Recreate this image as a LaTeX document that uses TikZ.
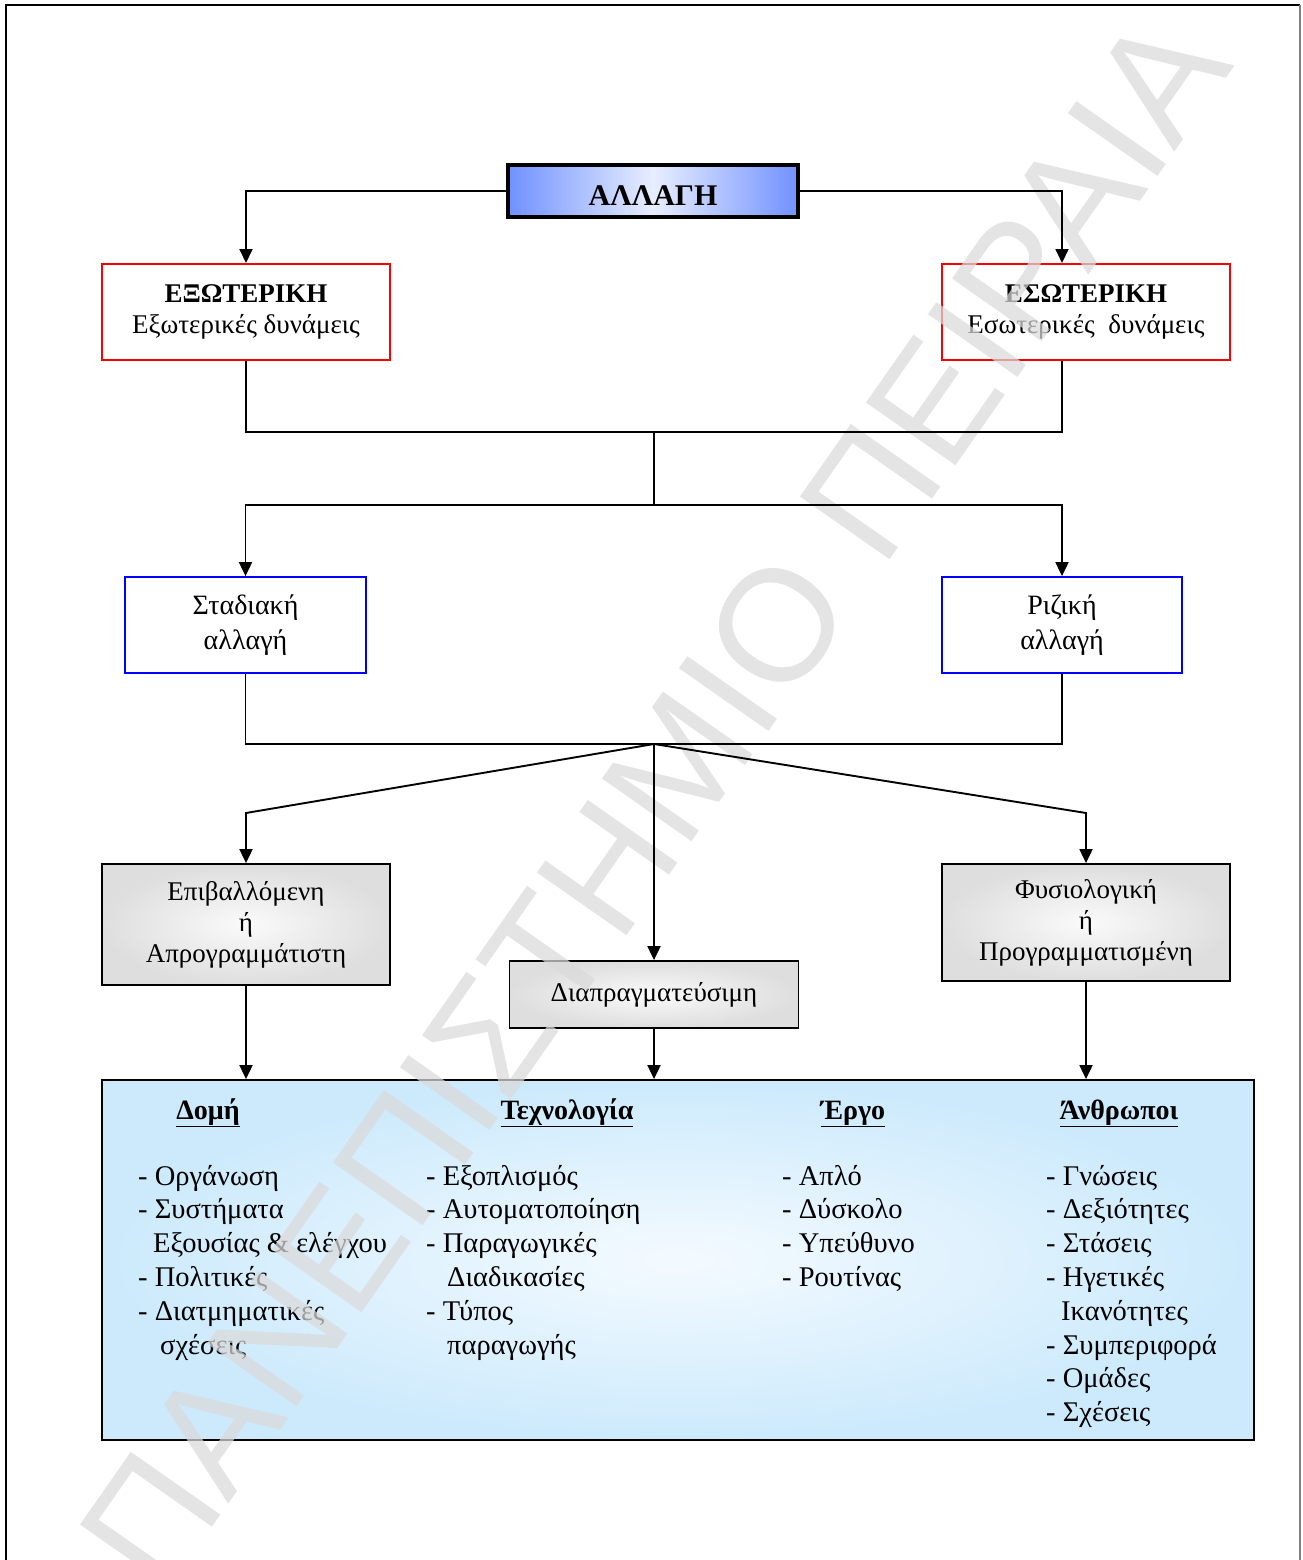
\documentclass[tikz,border=0pt]{standalone}
\usepackage{fontspec}
\setmainfont{Liberation Serif}
\newfontfamily\wmfont{Liberation Sans}
\usetikzlibrary{arrows.meta}

\definecolor{edgeblue}{RGB}{112,145,255}
\definecolor{paleblue}{RGB}{232,238,255}
\definecolor{skyedge}{RGB}{204,234,252}
\definecolor{skycore}{RGB}{244,250,255}
\definecolor{greyedge}{RGB}{222,222,222}
\definecolor{greycore}{RGB}{250,250,250}
\definecolor{wmgrey}{RGB}{218,218,218}

\newcommand{\boxfont}{\fontsize{27}{31}\selectfont}
\newcommand{\kindfont}{\fontsize{28}{35}\selectfont}
\newcommand{\listfont}{\fontsize{28.5}{33.8}\selectfont}
\newcommand{\headfont}{\bfseries\fontsize{28}{32}\selectfont}

\begin{document}
\begin{tikzpicture}[x=1pt,y=-1pt,
  box/.style={draw, line width=1.8pt, inner sep=0pt, align=center, font=\boxfont},
  sourcebox/.style={box, draw=red, line width=2pt, minimum width=288pt, minimum height=96pt},
  kindbox/.style={box, draw=blue, line width=1.8pt, minimum width=240pt, minimum height=96pt, font=\kindfont},
  modebox/.style={box, minimum width=288pt, inner color=greycore, outer color=greyedge},
  head/.style={anchor=base, inner sep=0pt, font=\headfont},
  col/.style={anchor=base west, inner sep=0pt, font=\listfont},
  wm/.style={anchor=base, rotate=55, inner sep=0pt, text=wmgrey, text opacity=0.72,
             font=\wmfont\fontsize{159}{160}\selectfont},
  conn/.style={line width=1.9pt},
  arr/.style={conn, -{Triangle[length=14pt, width=13pt]}}]

\useasboundingbox (0,0) rectangle (1302,1560);

% page frame (open at the bottom)
\draw[line width=2pt] (6,1560) -- (6,5) -- (1300,5);
\draw[line width=1.5pt, gray] (1300,5) -- (1300,1560);

% top node
\node[box, line width=3.5pt, minimum width=290pt, minimum height=52pt,
      left color=edgeblue, right color=edgeblue, middle color=paleblue,
      font=\bfseries\fontsize{30}{32}\selectfont] (change) at (653,191)
      {\raisebox{-5pt}[\height][\depth]{ΑΛΛΑΓΗ}};

% sources of change
\node[sourcebox] (extL) at (246,312) {\textbf{ΕΞΩΤΕΡΙΚΗ}\\Εξωτερικές δυνάμεις};
\node[sourcebox] (extR) at (1086,312) {\textbf{ΕΣΩΤΕΡΙΚΗ}\\Εσωτερικές~~δυνάμεις};

% kinds of change
\node[kindbox, minimum width=241pt] (stad) at (245.5,625) {Σταδιακή\\αλλαγή};
\node[kindbox] (riz) at (1062,625) {Ριζική\\αλλαγή};

% ways of change
\node[modebox, minimum height=121pt] (epi) at (246,924.5) {Επιβαλλόμενη\\ή\\Απρογραμμάτιστη};
\node[modebox, minimum height=117pt] (fys) at (1086,922.5) {Φυσιολογική\\ή\\Προγραμματισμένη};
\node[modebox, minimum width=289pt, minimum height=67pt] (diap) at (654,994.5) {Διαπραγματεύσιμη};

% areas affected
\node[draw, line width=1.8pt, minimum width=1152pt, minimum height=360pt,
      inner color=skycore, outer color=skyedge] (factors) at (678,1260) {};

\node[head] (hDomi) at (208,1119) {\underline{Δομή}};
\node[head] (hTech) at (567,1119) {\underline{Τεχνολογία}};
\node[head] (hErgo) at (853,1119) {\underline{Έργο}};
\node[head] (hAnth) at (1119,1119) {\underline{Άνθρωποι}};

\node[col] (cDomi) at (138,1185) {\begin{tabular}[t]{@{}l@{}}
- Οργάνωση\\
- Συστήματα\\
\hspace*{15pt}Εξουσίας \& ελέγχου\\
- Πολιτικές\\
- Διατμηματικές\\
\hspace*{22pt}σχέσεις
\end{tabular}};

\node[col] (cTech) at (426,1185) {\begin{tabular}[t]{@{}l@{}}
- Εξοπλισμός\\
- Αυτοματοποίηση\\
- Παραγωγικές\\
\hspace*{21pt}Διαδικασίες\\
- Τύπος\\
\hspace*{21pt}παραγωγής
\end{tabular}};

\node[col] (cErgo) at (782,1185) {\begin{tabular}[t]{@{}l@{}}
- Απλό\\
- Δύσκολο\\
- Υπεύθυνο\\
- Ρουτίνας
\end{tabular}};

\node[col] (cAnth) at (1046,1185) {\begin{tabular}[t]{@{}l@{}}
- Γνώσεις\\
- Δεξιότητες\\
- Στάσεις\\
- Ηγετικές\\
\hspace*{15pt}Ικανότητες\\
- Συμπεριφορά\\
- Ομάδες\\
- Σχέσεις
\end{tabular}};

% watermark
\node[wm] (watermark) at (699,832) {ΠΑΝΕΠΙΣΤΗΜΙΟ ΠΕΙΡΑΙΑ};

% junction points
\coordinate (mergeTop) at (654,432);
\coordinate (splitTop) at (654,505);
\coordinate (mergeMid) at (654,744);
\coordinate (kneeL) at (246,813);
\coordinate (kneeR) at (1086,813);

% connectors
\draw[arr] (change.west) -| (extL.north);
\draw[arr] (change.east) -| (riz.north |- extR.north);
\draw[conn] (extL.south) |- (mergeTop) -- (splitTop);
\draw[conn] (riz.north |- extR.south) |- (mergeTop);
\draw[arr] (splitTop) -| (stad.north);
\draw[arr] (splitTop) -| (riz.north);
\draw[conn] (stad.south) |- (mergeMid);
\draw[conn] (riz.south) |- (mergeMid);
\draw[arr] (mergeMid) -- (diap.north);
\draw[arr] (mergeMid) -- (kneeL) -- (epi.north);
\draw[arr] (mergeMid) -- (kneeR) -- (fys.north);
\draw[arr] (epi.south) -- (epi.south |- factors.north);
\draw[arr] (diap.south) -- (diap.south |- factors.north);
\draw[arr] (fys.south) -- (fys.south |- factors.north);

\end{tikzpicture}
\end{document}
